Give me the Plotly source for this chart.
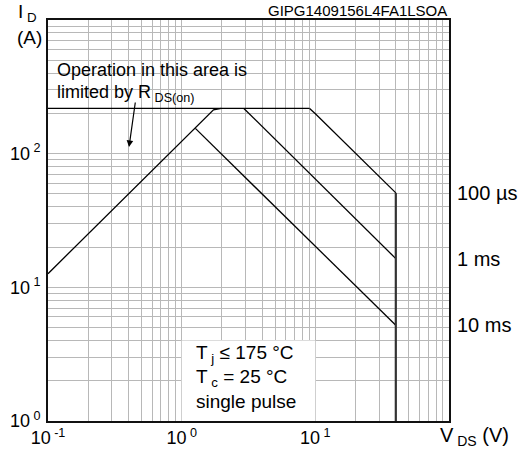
import plotly.graph_objects as go
import numpy as np

# Safe operating area, single pulse
rds_v = [0.1, 1.73, 1.98]          # R_DS(on) limit
rds_i = [12.65, 213, 218]
limit_v = [0.1, 9.06]              # current limit
limit_i = [218, 218]
us100_v = [9.06, 10.05, 40]
us100_i = [218, 198, 50.9]
ms1_v = [2.92, 40]
ms1_i = [218, 16.4]
ms10_v = [1.266, 40]
ms10_i = [154.5, 5.2]
vmax_v = [40, 40]                  # V_DS breakdown limit
vmax_i = [50.9, 1]

pulse_labels = ["100 µs", "1 ms", "10 ms"]
pulse_label_i = [50.9, 16.4, 5.2]

NB = "\u00a0"
x_decades = [-1, 0, 1]
y_decades = [0, 1, 2]
x_tick_text = [f"10<sup>{NB}-1</sup>", f"10<sup>{NB}0</sup>", f"10<sup>{NB}1</sup>"]
y_tick_text = [f"10<sup>{NB}0</sup>", f"10<sup>{NB}1</sup>", f"10<sup>{NB}2</sup>"]

FONT = "Liberation Sans, Arial, sans-serif"
W, H = 521, 450
L, R, T, B = 48, 72, 20, 29


def px(p):
    return (p - L) / (W - L - R)


def py(p):
    return (H - B - p) / (H - T - B)


def grid_ticks(decades, labels, last):
    vals, text = [], []
    lab = dict(zip(decades, labels))
    for d in decades:
        for m in range(1, 10):
            vals.append(m * 10.0 ** d)
            text.append(lab[d] if m == 1 else "")
    vals.append(10.0 ** last)
    text.append("")
    return vals, text


xt_vals, xt_text = grid_ticks(x_decades, x_tick_text, 2)
yt_vals, yt_text = grid_ticks(y_decades, y_tick_text, 3)

fig = go.Figure()
line = dict(color="black", width=1.3)
for xs, ys in [(limit_v, limit_i), (rds_v, rds_i), (us100_v, us100_i),
               (ms1_v, ms1_i), (ms10_v, ms10_i)]:
    fig.add_trace(go.Scatter(x=xs, y=ys, mode="lines", line=line,
                             hoverinfo="skip", showlegend=False))
fig.add_trace(go.Scatter(x=vmax_v, y=vmax_i, mode="lines",
                         line=dict(color="#333333", width=2.2),
                         hoverinfo="skip", showlegend=False))

axis_common = dict(type="log", showgrid=True, gridcolor="#b8b8b8", gridwidth=1,
                   showline=True, mirror=True, linecolor="#111111", linewidth=1.6,
                   ticks="", zeroline=False, automargin=False,
                   tickfont=dict(family=FONT, size=18, color="black"))
fig.update_xaxes(range=[-1, 2], tickmode="array", tickvals=xt_vals,
                 ticktext=xt_text, ticklabelstandoff=0, **axis_common)
fig.update_yaxes(range=[0, 3], tickmode="array", tickvals=yt_vals,
                 ticktext=yt_text, ticklabelstandoff=2, **axis_common)

# white backgrounds behind the in-plot notes
fig.add_shape(type="rect", xref="paper", yref="paper", layer="between",
              x0=px(52), x1=px(253), y0=py(106), y1=py(62),
              fillcolor="white", line=dict(width=0))
fig.add_shape(type="rect", xref="x", yref="y", layer="between",
              x0=1, x1=10, y0=1, y1=4.0,
              fillcolor="white", line=dict(width=0))


def note(text, x, y, size, xanchor="left", xref="paper", yref="paper"):
    fig.add_annotation(text=text, x=x, y=y, xref=xref, yref=yref,
                       xanchor=xanchor, yanchor="middle", showarrow=False,
                       align="left", font=dict(family=FONT, size=size, color="black"))


note("GIPG1409156L4FA1LSOA", px(449), py(11), 15, xanchor="right")
note(f"I<sub>{NB}D</sub>", px(16), py(13), 19)
note("(A)", px(15), py(38), 19)
note(f"V<sub>{NB}DS</sub> (V)", px(438), py(436), 20)

for txt, cur in zip(pulse_labels, pulse_label_i):
    note(txt, px(455), np.log10(cur), 20, yref="y")

note("Operation in this area is", px(55), py(70), 18)
note(f"limited by R<sub>{NB}DS(on)</sub>", px(55), py(93), 18)

note(f"T<sub>{NB}j</sub> ≤ 175 °C", px(194), py(354), 19)
note(f"T<sub>{NB}c</sub> = 25 °C", px(194), py(377.5), 19)
note("single pulse", px(194), py(401), 19)

fig.add_annotation(x=px(129), y=py(147), xref="paper", yref="paper",
                   ax=6.5, ay=-46, text="", showarrow=True,
                   arrowhead=2, arrowsize=1.1, arrowwidth=1.2, arrowcolor="black")

fig.update_layout(width=W, height=H, margin=dict(l=L, r=R, t=T, b=B),
                  paper_bgcolor="white", plot_bgcolor="white",
                  font=dict(family=FONT, color="black"))

fig.write_html("out.html")
